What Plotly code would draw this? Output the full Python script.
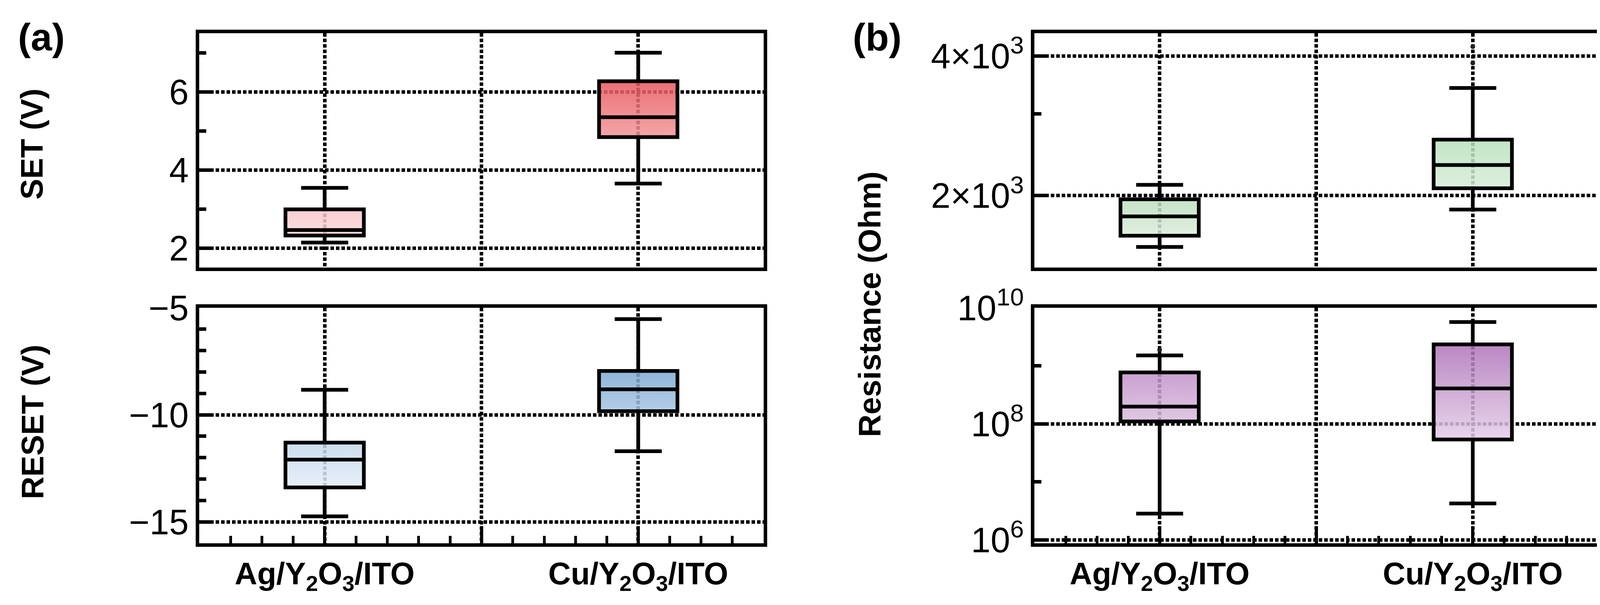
import plotly.graph_objects as go

W, H = 4117, 1549

# ---------------- data ----------------
devices = ["Ag/Y<sub>2</sub>O<sub>3</sub>/ITO", "Cu/Y<sub>2</sub>O<sub>3</sub>/ITO"]
positions = [0, 1]

# SET voltage (V)
set_low = [2.14, 3.65]
set_q1 = [2.32, 4.84]
set_med = [2.46, 5.35]
set_q3 = [2.99, 6.27]
set_high = [3.54, 7.00]

# RESET voltage (V)
reset_low = [-14.74, -11.70]
reset_q1 = [-13.39, -9.83]
reset_med = [-12.09, -8.81]
reset_q3 = [-11.30, -7.95]
reset_high = [-8.83, -5.53]

# Low-resistance state (Ohm)
lrs_low = [1550, 1866]
lrs_q1 = [1639, 2074]
lrs_med = [1804, 2328]
lrs_q3 = [1964, 2640]
lrs_high = [2110, 3412]
lrs_out_x = [1, 1]
lrs_out_y = [4188, 3861]

# High-resistance state (Ohm)
hrs_low = [2.83e6, 4.24e6]
hrs_q1 = [1.10e8, 5.37e7]
hrs_med = [1.98e8, 4.07e8]
hrs_q3 = [7.7e8, 2.34e9]
hrs_high = [1.51e9, 5.67e9]
hrs_out_x = [0]
hrs_out_y = [1.88e9]

# gradient colours: (bottom, top) per device
set_cols = [("rgba(251,218,220,0.85)", "rgba(248,196,200,0.85)"),
            ("rgba(241,150,154,0.85)", "rgba(232,86,92,0.85)")]
reset_cols = [("rgba(226,237,247,0.85)", "rgba(196,216,236,0.85)"),
              ("rgba(166,198,227,0.85)", "rgba(124,168,209,0.85)")]
lrs_cols = [("rgba(220,236,220,0.85)", "rgba(186,222,188,0.85)"),
            ("rgba(216,237,216,0.85)", "rgba(184,224,188,0.85)")]
hrs_cols = [("rgba(218,190,222,0.85)", "rgba(192,144,200,0.85)"),
            ("rgba(228,206,232,0.85)", "rgba(174,114,184,0.85)")]

BOX_W = 0.25
FONT = "Liberation Sans, Arial, Helvetica, sans-serif"

fig = go.Figure()


def add_panel(n, low, q1, med, q3, high, cols):
    xa, ya = ("x" if n == 1 else f"x{n}"), ("y" if n == 1 else f"y{n}")
    xo, yo = f"x{n + 4}", f"y{n + 4}"
    # gradient-filled box bodies (base subplot)
    for i, p in enumerate(positions):
        hw = BOX_W / 2
        fig.add_trace(go.Scatter(
            x=[p - hw, p + hw, p + hw, p - hw, p - hw],
            y=[q1[i], q1[i], q3[i], q3[i], q1[i]],
            mode="none", fill="toself",
            fillgradient=dict(type="vertical", start=q1[i], stop=q3[i],
                              colorscale=[[0, cols[i][0]], [1, cols[i][1]]]),
            hoverinfo="skip", showlegend=False, xaxis=xa, yaxis=ya))
    # outlines, medians, whiskers (overlay subplot, drawn above the fills)
    fig.add_trace(go.Box(
        x=positions, q1=q1, median=med, q3=q3, lowerfence=low, upperfence=high,
        width=BOX_W, whiskerwidth=0.6, fillcolor="rgba(0,0,0,0)",
        line=dict(color="black", width=9.5), boxpoints=False,
        hoverinfo="skip", showlegend=False, xaxis=xo, yaxis=yo))


add_panel(1, set_low, set_q1, set_med, set_q3, set_high, set_cols)
add_panel(2, reset_low, reset_q1, reset_med, reset_q3, reset_high, reset_cols)
add_panel(3, lrs_low, lrs_q1, lrs_med, lrs_q3, lrs_high, lrs_cols)
add_panel(4, hrs_low, hrs_q1, hrs_med, hrs_q3, hrs_high, hrs_cols)

fig.add_trace(go.Scatter(x=lrs_out_x, y=lrs_out_y, mode="markers",
                         marker=dict(color="#222222", size=12),
                         showlegend=False, hoverinfo="skip", xaxis="x7", yaxis="y7"))
fig.add_trace(go.Scatter(x=hrs_out_x, y=hrs_out_y, mode="markers",
                         marker=dict(color="#222222", size=12),
                         showlegend=False, hoverinfo="skip", xaxis="x8", yaxis="y8"))

GRID = dict(showgrid=True, gridcolor="black", gridwidth=9, griddash="9px,5px")
LINE = dict(showline=True, linecolor="black", linewidth=9, mirror=True, zeroline=False,
            automargin=False)

dom_a = [502 / W, 1947 / W]
dom_b = [2640 / W, 4083 / W]
dom_top = [1 - 677 / H, 1 - 77 / H]
dom_bot = [1 - 1383 / H, 1 - 780 / H]
XR = [-0.4, 1.4]

xlabels = ["<b>" + devices[0] + "</b>", "", "<b>" + devices[1] + "</b>"]


def xaxis_top(dom, anchor):
    return dict(domain=dom, anchor=anchor, range=XR, tickmode="array",
                tickvals=[0, 0.5, 1], ticks="", showticklabels=False, **GRID, **LINE)


def xaxis_bot(dom, anchor):
    return dict(domain=dom, anchor=anchor, range=XR, tickmode="array",
                tickvals=[0, 0.5, 1], ticktext=xlabels, ticks="inside", ticklen=44,
                tickwidth=8, tickcolor="black",
                tickfont=dict(family=FONT, size=80, color="black"),
                minor=dict(dtick=0.1, tick0=0, ticks="inside", ticklen=19, tickwidth=7,
                           tickcolor="black", showgrid=False),
                **GRID, **LINE)


def yaxis(dom, anchor, **kw):
    d = dict(domain=dom, anchor=anchor, ticks="inside", ticklen=34, tickwidth=9,
             tickcolor="black", tickfont=dict(family=FONT, size=90, color="black"),
             **GRID, **LINE)
    d.update(kw)
    return d


def overlay_x(base):
    return dict(overlaying=base, range=XR, visible=False, showgrid=False,
                zeroline=False, automargin=False)


def overlay_y(base, anchor, rng, typ="linear"):
    return dict(overlaying=base, anchor=anchor, range=rng, type=typ, visible=False,
                showgrid=False, zeroline=False, automargin=False)


R1, R2, R3, R4 = [1.5, 7.5], [-16, -5], [3.146, 3.651], [5.94, 10.0]

fig.update_layout(
    width=W, height=H, margin=dict(l=0, r=0, t=0, b=0, pad=0, autoexpand=False),
    paper_bgcolor="white", plot_bgcolor="white", showlegend=False,
    font=dict(family=FONT, color="black"),
    xaxis=xaxis_top(dom_a, "y"),
    xaxis2=xaxis_bot(dom_a, "y2"),
    xaxis3=xaxis_top(dom_b, "y3"),
    xaxis4=xaxis_bot(dom_b, "y4"),
    yaxis=yaxis(dom_top, "x", range=R1, tickmode="array", tickvals=[2, 4, 6],
                minor=dict(dtick=1, tick0=0, ticks="inside", ticklen=18, tickwidth=9,
                           tickcolor="black", showgrid=False)),
    yaxis2=yaxis(dom_bot, "x2", range=R2, tickmode="array", tickvals=[-15, -10, -5],
                 minor=dict(dtick=1, tick0=0, ticks="inside", ticklen=18, tickwidth=9,
                            tickcolor="black", showgrid=False)),
    yaxis3=yaxis(dom_top, "x3", type="log", range=R3, tickmode="array",
                 tickvals=[2000, 4000],
                 ticktext=["2×10<sup>3</sup>", "4×10<sup>3</sup>"],
                 minor=dict(tickmode="array", tickvals=[3000], ticks="inside", ticklen=18,
                            tickwidth=9, tickcolor="black", showgrid=False)),
    yaxis4=yaxis(dom_bot, "x4", type="log", range=R4, tickmode="array",
                 tickvals=[1e6, 1e8, 1e10],
                 ticktext=["10<sup>6</sup>", "10<sup>8</sup>", "10<sup>10</sup>"],
                 minor=dict(tickmode="array", tickvals=[1e7, 1e9], ticks="inside", ticklen=18,
                            tickwidth=9, tickcolor="black", showgrid=False)),
    xaxis5=overlay_x("x"), xaxis6=overlay_x("x2"),
    xaxis7=overlay_x("x3"), xaxis8=overlay_x("x4"),
    yaxis5=overlay_y("y", "x5", R1), yaxis6=overlay_y("y2", "x6", R2),
    yaxis7=overlay_y("y3", "x7", R3, "log"), yaxis8=overlay_y("y4", "x8", R4, "log"),
)

ann_font = dict(family=FONT, size=80, color="black")
fig.add_annotation(text="<b>SET (V)</b>", x=73 / W, y=1 - 361 / H, xref="paper", yref="paper",
                   textangle=-90, showarrow=False, font=ann_font, xanchor="center", yanchor="middle")
fig.add_annotation(text="<b>RESET (V)</b>", x=75 / W, y=1 - 1072 / H, xref="paper", yref="paper",
                   textangle=-90, showarrow=False, font=ann_font, xanchor="center", yanchor="middle")
fig.add_annotation(text="<b>Resistance (Ohm)</b>", x=2218 / W, y=1 - 771 / H, xref="paper",
                   yref="paper", textangle=-90, showarrow=False, font=ann_font,
                   xanchor="center", yanchor="middle")
lab_font = dict(family=FONT, size=98, color="black")
fig.add_annotation(text="<b>(a)</b>", x=36 / W, y=1 - 87 / H, xref="paper", yref="paper",
                   showarrow=False, font=lab_font, xanchor="left", yanchor="middle")
fig.add_annotation(text="<b>(b)</b>", x=2173 / W, y=1 - 87 / H, xref="paper", yref="paper",
                   showarrow=False, font=lab_font, xanchor="left", yanchor="middle")

fig.write_html("out.html")
